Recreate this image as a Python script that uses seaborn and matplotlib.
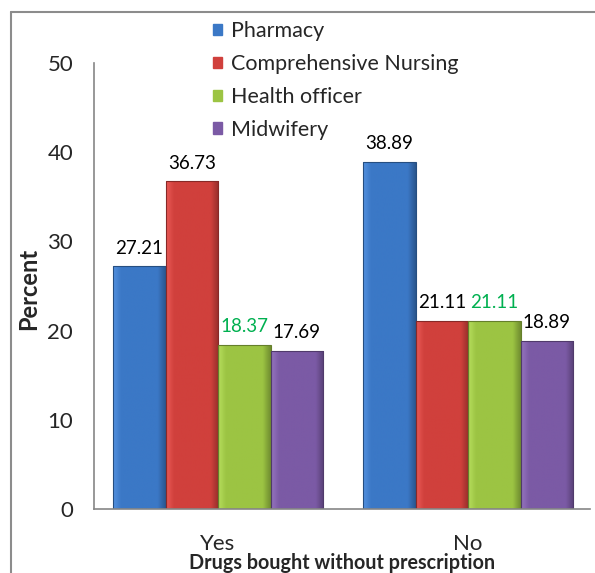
import numpy as np
import pandas as pd
import matplotlib
matplotlib.use("Agg")
import matplotlib.pyplot as plt
import matplotlib.colors as mcolors
from matplotlib.lines import Line2D
from matplotlib.patches import Patch
import seaborn as sns

# ---- data ----
groups = ["Yes", "No"]
programs = ["Pharmacy", "Comprehensive Nursing", "Health officer", "Midwifery"]
pharmacy = [27.21, 38.89]
nursing = [36.73, 21.11]
health_officer = [18.37, 21.11]
midwifery = [17.69, 18.89]
y_ticks = [0, 10, 20, 30, 40, 50]

colors = ["#3B78C6", "#D0403C", "#9CC443", "#7B5AA5"]
label_colors = ["black", "black", "#00B050", "black"]

df = pd.DataFrame({
    "group": groups * 4,
    "program": [p for p in programs for _ in groups],
    "value": pharmacy + nursing + health_officer + midwifery,
})

sns.set_style("white")
plt.rcParams["font.family"] = ["Lato", "DejaVu Sans"]

fig = plt.figure(figsize=(5.95, 5.73), dpi=100)
ax = fig.add_axes([94 / 595, 1 - 509 / 573, 496 / 595, (509 - 63) / 573])

sns.barplot(data=df, x="group", y="value", hue="program", order=groups,
            hue_order=programs, palette=colors, width=0.84, gap=0,
            saturation=1, ax=ax, legend=False, errorbar=None,
            edgecolor="none", linewidth=0)

# gradient shading for a bevelled look
t = np.linspace(0, 1, 64)
for cont, col in zip(ax.containers, colors):
    rgb = np.array(mcolors.to_rgb(col))
    light = np.clip(rgb + 0.10, 0, 1)
    dark = rgb * 0.72
    stops_t = [0, 0.15, 0.85, 1]
    prof = np.stack([np.interp(t, stops_t, [light[k], rgb[k], rgb[k], dark[k]])
                     for k in range(3)], axis=-1)
    img = prof[None, :, :]
    for p in cont.patches:
        x0, y0 = p.get_x(), p.get_y()
        w, h = p.get_width(), p.get_height()
        im = ax.imshow(img, extent=[x0, x0 + w, y0, y0 + h], aspect="auto",
                       zorder=p.get_zorder() + 0.1, interpolation="bilinear")
        im.set_clip_path(p)
        ax.add_patch(plt.Rectangle((x0, y0), w, h, fill=False,
                                   edgecolor=tuple(dark * 0.9), linewidth=0.8,
                                   zorder=p.get_zorder() + 0.2))

for cont, lc in zip(ax.containers, label_colors):
    ax.bar_label(cont, fmt="%.2f", padding=7, fontsize=13.5, color=lc)

ax.set_xlim(-0.496, 1.488)
ax.set_ylim(0, 50)
ax.set_yticks(y_ticks)
ax.tick_params(axis="both", length=0, labelsize=16)
ax.tick_params(axis="y", pad=15)
ax.tick_params(axis="x", pad=18)

for s in ["top", "right"]:
    ax.spines[s].set_visible(False)
for s in ["left", "bottom"]:
    ax.spines[s].set_color("#868686")
    ax.spines[s].set_linewidth(1.2)

ax.set_xlabel("Drugs bought without prescription", fontsize=14.2, fontweight="bold")
ax.xaxis.label.set_va("center")
ax.xaxis.set_label_coords(0.5, -0.121)
ax.set_ylabel("Percent", fontsize=17, fontweight="bold")
ax.yaxis.set_label_coords(-0.109, 0.494)

handles = [Patch(facecolor=c, edgecolor=mcolors.to_rgb(c)) for c in colors]
fig.legend(handles, programs, loc="upper left", bbox_to_anchor=(213 / 595, 1 - 21 / 573),
           frameon=False, fontsize=15.5, handlelength=0.42, handleheight=0.42,
           handletextpad=0.42, labelspacing=0.6, borderpad=0, borderaxespad=0)

# outer frame
fig.add_artist(Line2D([11 / 595, 1], [1 - 12 / 573, 1 - 12 / 573],
                      transform=fig.transFigure, color="#8c8c8c", lw=1.5))
fig.add_artist(Line2D([11 / 595, 11 / 595], [0, 1 - 12 / 573],
                      transform=fig.transFigure, color="#8c8c8c", lw=1.5))

fig.savefig("out.png", dpi=100)
